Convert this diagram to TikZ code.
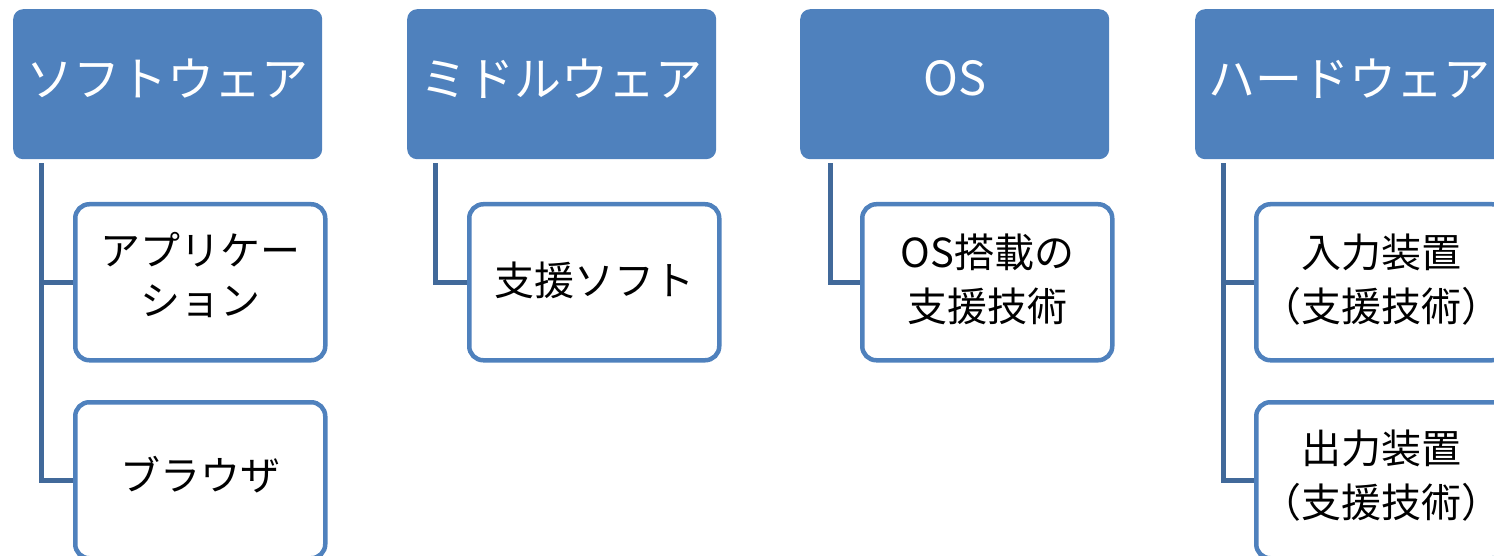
\documentclass[tikz,border=0pt]{standalone}
\usepackage{fontspec}
\newfontfamily\jp{Noto Sans CJK JP}
\definecolor{hdr}{HTML}{4F81BD}
\definecolor{cn}{HTML}{41699A}
\tikzset{
  hdrbox/.style={fill=hdr, rounded corners=10pt, minimum width=309pt, minimum height=150pt, inner sep=0pt, anchor=north west},
  hdrtext/.style={text=white, font=\jp\fontsize{47}{56}\selectfont, inner sep=0pt},
  childbox/.style={draw=hdr, line width=4.5pt, fill=white, rounded corners=14pt, minimum width=250pt, minimum height=156pt, inner sep=0pt, anchor=north west},
  childtext/.style={font=\jp\fontsize{40}{54}\selectfont, align=center, inner sep=0pt},
  conn/.style={draw=cn, line width=5pt}
}
\begin{document}
\begin{tikzpicture}[x=1pt,y=-1pt]
\useasboundingbox (0,0) rectangle (1494,556);
\clip (0,0) rectangle (1494,556);
% headers
\node[hdrbox] (sw) at (13,9) {};
\node[hdrbox] (mw) at (407,9) {};
\node[hdrbox] (os) at (800,9) {};
\node[hdrbox] (hw) at (1195,9) {};
\node[hdrtext] (swt) at ([yshift=6pt]sw.center) {ソフトウェア};
\node[hdrtext] (mwt) at ([yshift=6pt]mw.center) {ミドルウェア};
\node[hdrtext] (ost) at ([yshift=6pt]os.center) {OS};
\node[hdrtext] (hwt) at ([yshift=6pt]hw.center) {ハードウェア};
% connector anchors
\coordinate (swc) at ([xshift=28pt,yshift=-4pt]sw.south west);
\coordinate (mwc) at ([xshift=28pt,yshift=-4pt]mw.south west);
\coordinate (osc) at ([xshift=30pt,yshift=-4pt]os.south west);
\coordinate (hwc) at ([xshift=28pt,yshift=-4pt]hw.south west);
% child positions
\coordinate (p1) at (73,202);
\coordinate (p2) at (73,400);
\coordinate (p3) at (467,202);
\coordinate (p4) at (860,202);
\coordinate (p5) at (1254,202);
\coordinate (p6) at (1254,400);
% invisible placeholders for connectors (drawn before boxes)
\path (p1) node[childbox, draw=none, fill=none] (app0) {};
\path (p2) node[childbox, draw=none, fill=none] (br0) {};
\path (p3) node[childbox, draw=none, fill=none] (sup0) {};
\path (p4) node[childbox, draw=none, fill=none] (ossup0) {};
\path (p5) node[childbox, draw=none, fill=none] (in0) {};
\path (p6) node[childbox, draw=none, fill=none] (out0) {};
\draw[conn] (swc) |- (app0.west);
\draw[conn] (swc) |- (br0.west);
\draw[conn] (mwc) |- (sup0.west);
\draw[conn] (osc) |- (ossup0.west);
\draw[conn] (hwc) |- (in0.west);
\draw[conn] (hwc) |- (out0.west);
% children
\node[childbox] (app) at (p1) {};
\node[childbox] (br) at (p2) {};
\node[childbox] (sup) at (p3) {};
\node[childbox] (ossup) at (p4) {};
\node[childbox] (in) at (p5) {};
\node[childbox] (out) at (p6) {};
\node[childtext] (appt) at ([yshift=7pt]app.center) {アプリケー\\[-4pt]ション};
\node[childtext] (brt) at ([yshift=6pt]br.center) {ブラウザ};
\node[childtext] (supt) at ([yshift=2pt]sup.center) {支援ソフト};
\node[childtext] (ossupt) at ([yshift=3pt]ossup.center) {OS搭載の\\支援技術};
\node[childtext] (int) at ([yshift=3pt]in.center) {入力装置\\（支援技術）};
\node[childtext] (outt) at ([yshift=5pt]out.center) {出力装置\\（支援技術）};
\end{tikzpicture}
\end{document}
